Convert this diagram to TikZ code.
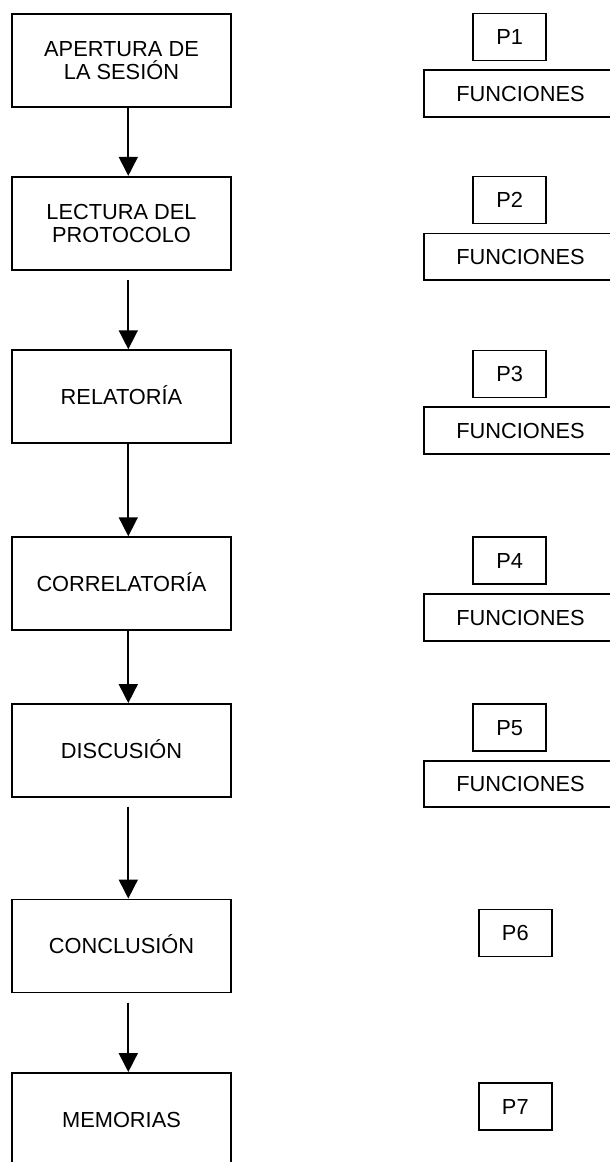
\documentclass[tikz,border=0pt]{standalone}
\usepackage{fontspec}
\setmainfont{Liberation Sans}
\usetikzlibrary{arrows.meta}
\begin{document}
\begin{tikzpicture}[x=1pt,y=-1pt,
  every node/.style={font=\fontsize{21.8}{23}\selectfont, inner sep=0pt},
  stage/.style={draw, line width=1.9pt, minimum width=219pt, minimum height=93pt, align=center},
  onel/.style={text height=15.6pt, text depth=0pt},
  pbox/.style={draw, line width=1.9pt, minimum width=73pt, minimum height=47pt, text height=15.6pt, text depth=0pt},
  fbox/.style={draw, line width=1.9pt, minimum width=193pt, minimum height=46.5pt, text height=15.6pt, text depth=0pt},
  flow/.style={line width=1.7pt, -{Triangle[length=19pt,width=19pt]}}]
\useasboundingbox (0,0) rectangle (610,1162);
\clip (0,0) rectangle (610,1162);
% left column
\node[stage] (b1) at (121.5,60.3) {APERTURA DE\\LA SESIÓN};
\node[stage] (b2) at (121.5,223.3) {LECTURA DEL\\PROTOCOLO};
\node[stage,onel] (b3) at (121.5,396.7) {RELATORÍA};
\node[stage,onel] (b4) at (121.5,583.7) {CORRELATORÍA};
\node[stage,onel] (b5) at (121.5,750.5) {DISCUSIÓN};
\node[stage,onel] (b6) at (121.5,946) {CONCLUSIÓN};
\node[stage,onel] (b7) at (121.5,1119.5) {MEMORIAS};
% right column
\node[pbox] (p1) at (509.7,37) {P1};
\node[fbox] (f1) at (520.5,93.3) {FUNCIONES};
\node[pbox] (p2) at (509.7,200) {P2};
\node[fbox] (f2) at (520.5,256.7) {FUNCIONES};
\node[pbox] (p3) at (509.7,374) {P3};
\node[fbox] (f3) at (520.5,430.3) {FUNCIONES};
\node[pbox] (p4) at (509.7,560.5) {P4};
\node[fbox] (f4) at (520.5,617.3) {FUNCIONES};
\node[pbox] (p5) at (509.7,727.3) {P5};
\node[fbox] (f5) at (520.5,784) {FUNCIONES};
\node[pbox] (p6) at (515.3,933) {P6};
\node[pbox] (p7) at (515.3,1106.3) {P7};
% connectors
\coordinate (ax) at (128.3,0);
\coordinate (g2) at (128.3,280);
\coordinate (g5) at (128.3,806.7);
\coordinate (g6) at (128.3,1002.7);
\draw[flow] (b1.south -| ax) -- (b2.north -| ax);
\draw[flow] (g2) -- (b3.north -| ax);
\draw[flow] (b3.south -| ax) -- (b4.north -| ax);
\draw[flow] (b4.south -| ax) -- (b5.north -| ax);
\draw[flow] (g5) -- (b6.north -| ax);
\draw[flow] (g6) -- (b7.north -| ax);
\end{tikzpicture}
\end{document}
